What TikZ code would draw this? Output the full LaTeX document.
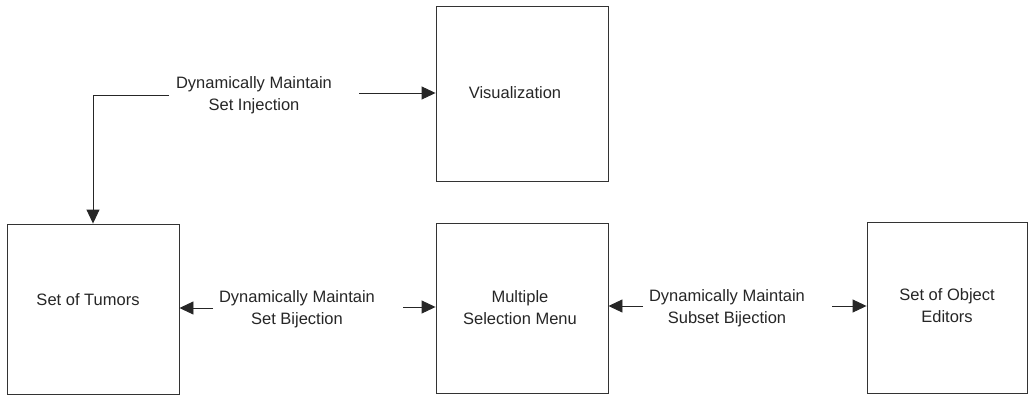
\documentclass[tikz,border=0pt]{standalone}
\usepackage{fontspec}
\setmainfont{Liberation Sans}
\usetikzlibrary{arrows.meta}
\begin{document}
\begin{tikzpicture}[x=1pt,y=-1pt,
  every node/.style={font=\fontsize{16.5}{22}\selectfont, text=black!85},
  box/.style={draw=black!80, line width=0.9pt, inner sep=0pt},
  lbl/.style={align=center, inner sep=0pt},
  arr/.style={draw=black!85, line width=0.9pt, -{Triangle[length=14pt,width=13pt]}}]
\useasboundingbox (0,0) rectangle (1030,396);
% boxes
\node[box, minimum width=172pt, minimum height=175pt] (vis) at (522,93.5) {};
\node[box, minimum width=172pt, minimum height=170pt] (tum) at (93,309) {};
\node[box, minimum width=172pt, minimum height=170pt] (msm) at (522,308) {};
\node[box, minimum width=160pt, minimum height=171pt] (ed) at (947,307.5) {};
% box texts
\node[lbl] (visT) at (515,93) {Visualization};
\node[lbl] (tumT) at (88,300) {Set of Tumors};
\node[lbl] (msmT) at (520,308) {Multiple\\Selection Menu};
\node[lbl] (edT) at (947,306) {Set of Object\\Editors};
% connector labels
\node[lbl] (inj) at (254,95) {Dynamically Maintain\\Set Injection};
\node[lbl] (bij) at (297,309) {Dynamically Maintain\\Set Bijection};
\node[lbl] (sub) at (727,308) {Dynamically Maintain\\Subset Bijection};
% connector free ends
\coordinate (injL) at (169,95);
\coordinate (injR) at (359,93);
\coordinate (bijL) at (213,308);
\coordinate (bijR) at (403,307);
\coordinate (subL) at (643,306);
\coordinate (subR) at (832,306);
% connectors
\draw[arr] (injL) -| (tum.north);
\draw[arr] (injR) -- (vis.west |- injR);
\draw[arr] (bijL) -- (tum.east |- bijL);
\draw[arr] (bijR) -- (msm.west |- bijR);
\draw[arr] (subL) -- (msm.east |- subL);
\draw[arr] (subR) -- (ed.west |- subR);
\end{tikzpicture}
\end{document}
